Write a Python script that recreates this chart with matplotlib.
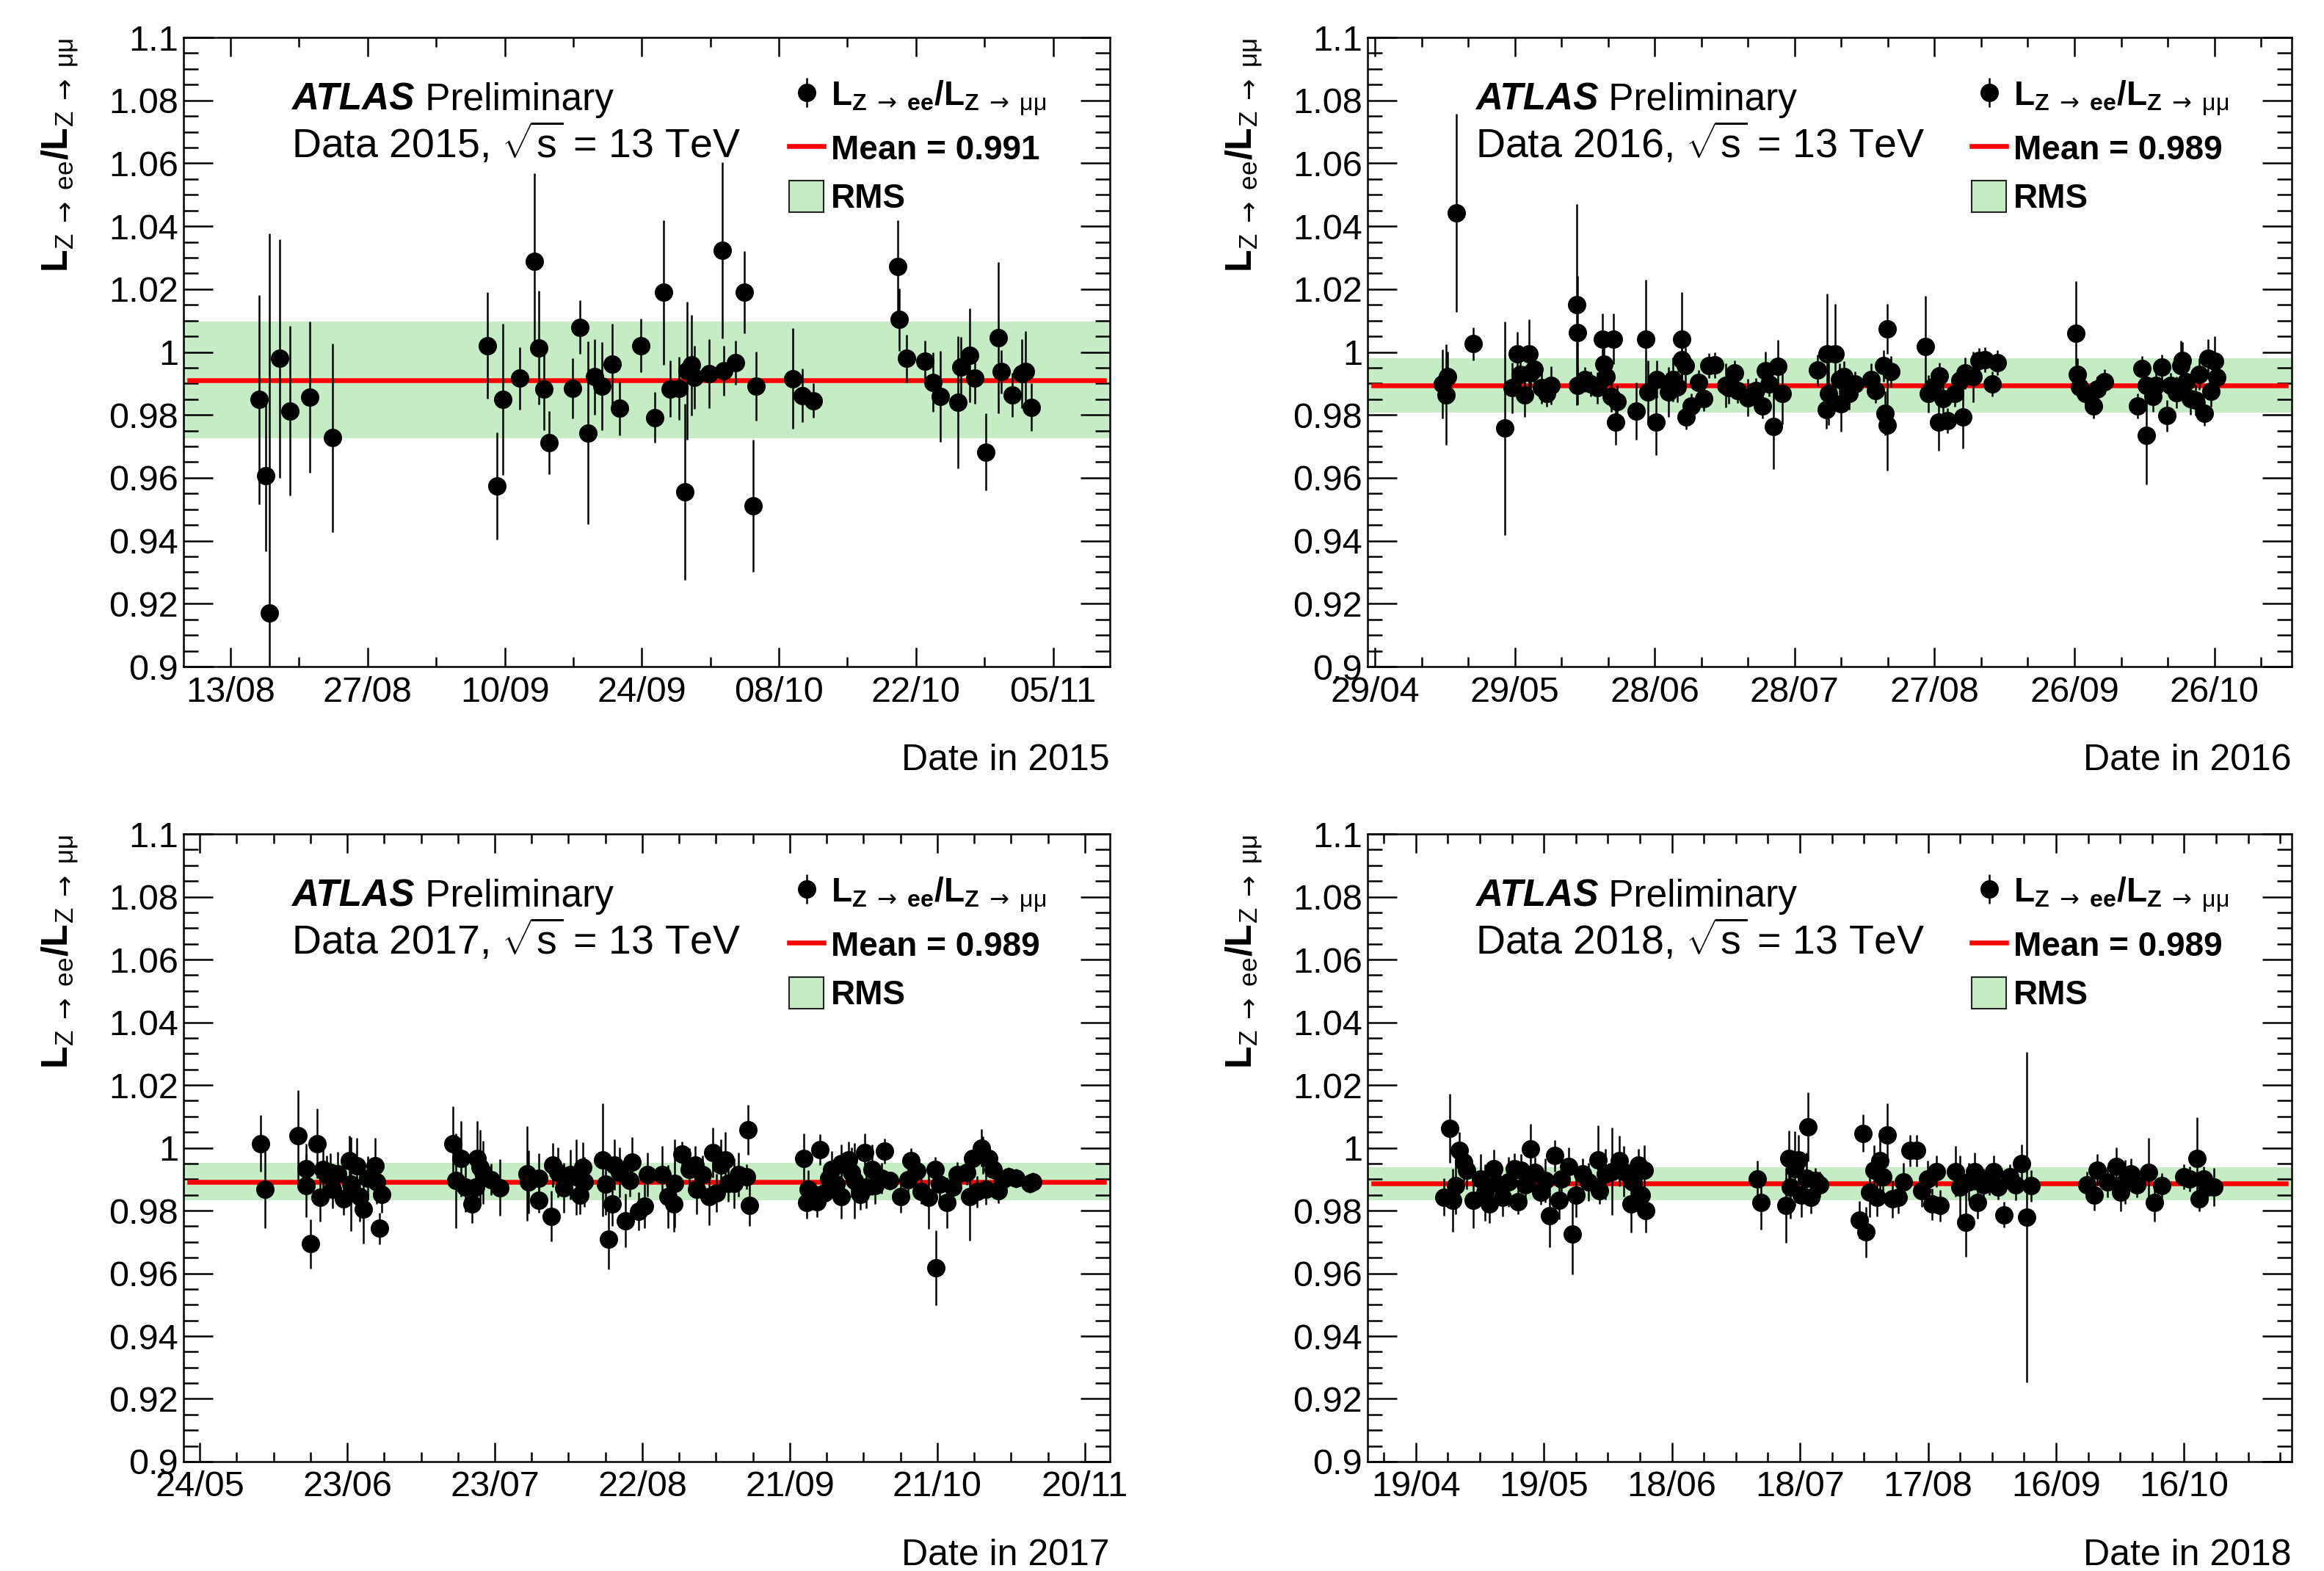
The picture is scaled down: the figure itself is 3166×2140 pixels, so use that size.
import matplotlib
matplotlib.use('Agg')
import matplotlib.pyplot as plt
import matplotlib.dates as mdates
from matplotlib.ticker import FixedLocator, AutoMinorLocator, MultipleLocator, FuncFormatter
from matplotlib.lines import Line2D
from matplotlib.patches import Patch
from matplotlib.container import ErrorbarContainer
from matplotlib.legend_handler import HandlerErrorbar
from datetime import datetime
import numpy as np

plt.rcParams['font.family'] = ['Liberation Sans', 'DejaVu Sans']
plt.rcParams['mathtext.fontset'] = 'custom'
plt.rcParams['mathtext.rm'] = 'Liberation Sans'
plt.rcParams['mathtext.bf'] = 'Liberation Sans:bold'
plt.rcParams['mathtext.it'] = 'Liberation Sans:italic'
plt.rcParams['mathtext.sf'] = 'DejaVu Sans'

# ---------------- data (t = days after 1 Jan of the year) ----------------
t_2015 = [226.9, 227.6, 228.0, 229.0, 230.1, 232.1, 234.4, 250.2, 251.2, 251.8,
          253.5, 255.0, 255.5, 256.0, 256.5, 258.9, 259.7, 260.5, 261.2, 261.9,
          263.0, 263.7, 265.9, 267.3, 268.2, 268.9, 269.8, 270.4, 270.6, 271.1,
          271.4, 272.9, 274.2, 274.4, 275.6, 276.5, 277.4, 277.7, 281.4, 282.4,
          283.5, 292.1, 292.3, 293.0, 294.9, 295.7, 296.5, 298.3, 298.6, 299.5,
          300.0, 301.1, 302.4, 302.7, 303.8, 304.8, 305.2, 305.8]
r_2015 = [0.9849, 0.9606, 0.9171, 0.9979, 0.9813, 0.9856, 0.9728, 1.0021, 0.9574, 0.9849,
          0.9916, 1.0288, 1.0014, 0.9881, 0.9712, 0.9884, 1.0079, 0.9743, 0.9921, 0.9891,
          0.9961, 0.9821, 1.0021, 0.9792, 1.0190, 0.9883, 0.9884, 0.9556, 0.9940, 0.9959,
          0.9920, 0.9932, 1.0324, 0.9940, 0.9966, 1.0190, 0.9510, 0.9892, 0.9915, 0.9862,
          0.9845, 1.0273, 1.0103, 0.9979, 0.9971, 0.9904, 0.9859, 0.9840, 0.9951, 0.9990,
          0.9916, 0.9682, 1.0045, 0.9937, 0.9864, 0.9932, 0.9937, 0.9824]
e_2015 = [0.0333, 0.024, 0.1207, 0.038, 0.027, 0.024, 0.030, 0.017, 0.017, 0.024,
          0.010, 0.028, 0.018, 0.013, 0.010, 0.0095, 0.0085, 0.029, 0.012, 0.014,
          0.013, 0.0085, 0.0085, 0.008, 0.023, 0.009, 0.010, 0.028, 0.022, 0.016,
          0.010, 0.011, 0.028, 0.008, 0.007, 0.013, 0.021, 0.011, 0.016, 0.0085,
          0.0055, 0.0147, 0.010, 0.0075, 0.0065, 0.0095, 0.0145, 0.021, 0.0097, 0.015,
          0.008, 0.0122, 0.024, 0.007, 0.007, 0.011, 0.013, 0.0076]

t_2016 = [136.5, 133.5, 134.6, 134.3, 140.1, 146.9, 148.4, 149.5, 150.2, 151.1,
          152.1, 152.4, 153.2, 154.7, 155.8, 156.7, 162.2, 162.4, 162.5, 164.0,
          165.3, 166.7, 167.8, 168.1, 168.6, 169.6, 170.2, 171.0, 170.6, 175.0,
          177.0, 177.5, 179.2, 179.5, 182.0, 182.9, 183.9, 184.7, 184.8, 185.5,
          185.7, 186.8, 188.4, 189.5, 190.6, 191.8, 194.2, 194.8, 196.1, 196.7,
          198.9, 200.6, 202.1, 202.8, 203.5, 204.4, 205.4, 206.4, 213.9, 216.0,
          216.3, 215.8, 217.7, 218.7, 219.6, 219.0, 220.6, 221.9, 225.4, 226.4,
          228.9, 228.0, 229.6, 228.4, 228.8, 237.1, 237.6, 238.6, 240.0, 239.9,
          240.8, 241.8, 243.4, 244.4, 245.0, 245.6, 247.2, 248.5, 249.8, 251.3,
          252.4, 269.3, 269.7, 270.1, 271.3, 273.1, 273.9, 275.5, 282.6, 283.5,
          284.5, 284.4, 285.9, 286.4, 287.7, 288.9, 289.7, 290.9, 291.8, 292.2,
          292.9, 293.8, 295.0, 295.8, 296.9, 297.7, 298.3, 299.1, 299.5]
r_2016 = [1.0442, 0.9898, 0.9921, 0.9864, 1.0026, 0.9758, 0.9886, 0.9995, 0.9929, 0.9863,
          0.9995, 0.9933, 0.9946, 0.9886, 0.9867, 0.9894, 1.0151, 1.0061, 0.9894, 0.9913,
          0.9898, 0.9886, 1.0042, 0.9962, 0.9921, 0.9859, 1.0042, 0.9843, 0.9777, 0.9812,
          1.0040, 0.9873, 0.9777, 0.9913, 0.9873, 0.9913, 0.9890, 1.0040, 0.9975, 0.9956,
          0.9793, 0.9828, 0.9902, 0.9851, 0.9956, 0.9958, 0.9894, 0.9886, 0.9933, 0.9878,
          0.9855, 0.9878, 0.9828, 0.9941, 0.9898, 0.9762, 0.9954, 0.9869, 0.9942, 0.9995,
          0.9867, 0.9817, 0.9993, 0.9913, 0.9921, 0.9836, 0.9867, 0.9898, 0.9913, 0.9878,
          1.0073, 0.9956, 0.9938, 0.9806, 0.9767, 1.0018, 0.9867, 0.9890, 0.9925, 0.9777,
          0.9851, 0.9781, 0.9867, 0.9909, 0.9793, 0.9933, 0.9921, 0.9972, 0.9976, 0.9898,
          0.9966, 1.0060, 0.9929, 0.9890, 0.9867, 0.9828, 0.9882, 0.9905, 0.9829, 0.9947,
          0.9894, 0.9734, 0.9859, 0.9894, 0.9952, 0.9797, 0.9894, 0.9871, 0.9956, 0.9972,
          0.9905, 0.9851, 0.9847, 0.9929, 0.9806, 0.9980, 0.9875, 0.9970, 0.9920]
e_2016 = [0.0315, 0.011, 0.008, 0.016, 0.0052, 0.034, 0.008, 0.007, 0.008, 0.007,
          0.011, 0.008, 0.006, 0.005, 0.004, 0.006, 0.032, 0.018, 0.006, 0.004,
          0.004, 0.005, 0.008, 0.008, 0.006, 0.005, 0.008, 0.005, 0.0073, 0.009,
          0.019, 0.010, 0.0105, 0.006, 0.008, 0.007, 0.005, 0.015, 0.006, 0.006,
          0.004, 0.004, 0.004, 0.004, 0.004, 0.004, 0.007, 0.005, 0.004, 0.004,
          0.006, 0.004, 0.004, 0.006, 0.004, 0.0135, 0.0085, 0.010, 0.005, 0.019,
          0.010, 0.006, 0.016, 0.005, 0.005, 0.009, 0.005, 0.004, 0.005, 0.004,
          0.008, 0.005, 0.005, 0.007, 0.0145, 0.016, 0.006, 0.004, 0.004, 0.009,
          0.005, 0.004, 0.004, 0.004, 0.010, 0.005, 0.008, 0.004, 0.004, 0.004,
          0.004, 0.0165, 0.005, 0.004, 0.004, 0.004, 0.004, 0.004, 0.004, 0.004,
          0.004, 0.0155, 0.005, 0.005, 0.004, 0.005, 0.004, 0.005, 0.008, 0.006,
          0.004, 0.005, 0.005, 0.005, 0.004, 0.006, 0.005, 0.008, 0.005]

t_2017 = [155.4, 156.3, 163.0, 164.6, 164.7, 165.5, 166.8, 167.4, 168.0, 168.8,
          169.5, 170.0, 171.1, 172.3, 173.5, 173.8, 175.0, 175.6, 176.3, 177.2,
          178.6, 179.0, 179.5, 180.0, 194.5, 195.1, 196.2, 197.0, 198.3, 199.1,
          199.4, 200.0, 200.6, 202.2, 204.1, 209.5, 209.8, 211.9, 212.0, 214.5,
          214.8, 215.9, 217.1, 218.3, 219.5, 220.3, 220.9, 221.2, 224.9, 225.5,
          226.2, 226.9, 227.4, 228.4, 229.5, 230.5, 230.9, 232.3, 233.5, 234.1,
          237.1, 238.2, 239.4, 239.5, 241.1, 242.6, 243.7, 244.1, 245.3, 246.6,
          247.3, 248.1, 249.0, 249.8, 250.5, 251.7, 252.6, 254.2, 254.5, 254.8,
          265.9, 266.7, 266.4, 268.5, 269.1, 270.0, 270.9, 271.5, 272.4, 273.4,
          273.5, 274.9, 275.5, 276.1, 277.3, 278.2, 278.5, 279.8, 280.4, 281.6,
          282.2, 283.3, 285.5, 287.1, 287.7, 288.9, 289.8, 291.3, 292.6, 292.7,
          293.5, 295.0, 296.2, 297.1, 299.0, 299.6, 300.2, 301.1, 302.0, 302.3,
          302.9, 303.4, 304.4, 305.4, 306.3, 307.5, 309.0, 311.8, 312.4]
r_2017 = [1.0014, 0.9868, 1.0039, 0.9934, 0.9880, 0.9694, 1.0014, 0.9841, 0.9930, 0.9915,
          0.9922, 0.9868, 0.9918, 0.9837, 0.9958, 0.9884, 0.9942, 0.9845, 0.9805, 0.9903,
          0.9942, 0.9891, 0.9743, 0.9852, 1.0012, 0.9895, 0.9965, 0.9876, 0.9821, 0.9876,
          0.9965, 0.9938, 0.9922, 0.9899, 0.9873, 0.9918, 0.9891, 0.9903, 0.9833, 0.9782,
          0.9946, 0.9922, 0.9872, 0.9915, 0.9907, 0.9849, 0.9938, 0.9891, 0.9962, 0.9885,
          0.9708, 0.9821, 0.9946, 0.9922, 0.9768, 0.9895, 0.9955, 0.9798, 0.9815, 0.9915,
          0.9915, 0.9844, 0.9821, 0.9887, 0.9979, 0.9930, 0.9946, 0.9868, 0.9915, 0.9844,
          0.9985, 0.9856, 0.9946, 0.9961, 0.9887, 0.9887, 0.9915, 0.9908, 1.0057, 0.9817,
          0.9965, 0.9868, 0.9825, 0.9829, 0.9994, 0.9856, 0.9903, 0.9930, 0.9884, 0.9950,
          0.9844, 0.9961, 0.9922, 0.9895, 0.9852, 0.9985, 0.9876, 0.9930, 0.9880, 0.9903,
          0.9989, 0.9895, 0.9844, 0.9899, 0.9958, 0.9926, 0.9860, 0.9841, 0.9930, 0.9618,
          0.9884, 0.9825, 0.9876, 0.9915, 0.9922, 0.9844, 0.9965, 0.9860, 1.0000, 0.9977,
          0.9868, 0.9965, 0.9930, 0.9864, 0.9899, 0.9907, 0.9903, 0.9887, 0.9891]
e_2017 = [0.009, 0.0125, 0.0145, 0.008, 0.010, 0.0078, 0.011, 0.0075, 0.008, 0.006,
          0.006, 0.006, 0.007, 0.005, 0.008, 0.015, 0.009, 0.008, 0.011, 0.007,
          0.009, 0.007, 0.005, 0.006, 0.012, 0.015, 0.012, 0.008, 0.006, 0.008,
          0.012, 0.012, 0.010, 0.005, 0.009, 0.015, 0.010, 0.008, 0.004, 0.008,
          0.007, 0.008, 0.008, 0.008, 0.012, 0.006, 0.008, 0.008, 0.018, 0.010,
          0.0095, 0.007, 0.008, 0.008, 0.0085, 0.005, 0.008, 0.006, 0.007, 0.007,
          0.009, 0.010, 0.009, 0.014, 0.004, 0.007, 0.006, 0.008, 0.006, 0.009,
          0.008, 0.006, 0.008, 0.009, 0.006, 0.008, 0.007, 0.004, 0.008, 0.0065,
          0.008, 0.006, 0.005, 0.005, 0.005, 0.004, 0.005, 0.006, 0.005, 0.006,
          0.007, 0.006, 0.008, 0.012, 0.005, 0.006, 0.007, 0.008, 0.006, 0.005,
          0.004, 0.003, 0.005, 0.005, 0.004, 0.003, 0.004, 0.010, 0.004, 0.012,
          0.006, 0.008, 0.005, 0.004, 0.004, 0.014, 0.003, 0.005, 0.006, 0.006,
          0.005, 0.004, 0.003, 0.004, 0.003, 0.003, 0.003, 0.003, 0.003]

t_2018 = [114.5, 115.9, 116.6, 117.3, 118.2, 119.3, 120.0, 121.4, 123.1, 124.2,
          125.3, 126.3, 126.9, 128.3, 129.7, 131.1, 131.9, 132.7, 133.6, 134.8,
          135.9, 137.3, 138.3, 139.4, 140.5, 141.5, 142.1, 143.9, 144.6, 145.6,
          147.0, 148.4, 150.7, 151.1, 152.5, 153.9, 155.7, 156.7, 158.5, 158.7,
          160.1, 160.8, 161.5, 161.9, 188.0, 188.9, 194.7, 195.4, 195.8, 196.8,
          197.7, 198.4, 199.5, 199.9, 200.5, 201.6, 202.7, 212.0, 212.7, 213.4,
          214.3, 215.4, 216.1, 216.8, 217.5, 218.5, 219.6, 221.0, 222.3, 223.7,
          225.4, 226.5, 227.9, 229.0, 229.9, 230.9, 234.4, 235.5, 236.9, 237.5,
          238.9, 239.6, 241.0, 242.3, 243.3, 244.5, 245.8, 247.2, 248.6, 250.0,
          251.1, 252.1, 265.2, 266.9, 267.7, 270.1, 272.1, 273.2, 274.2, 275.6,
          277.0, 279.7, 281.1, 282.8, 288.0, 289.3, 291.0, 291.5, 292.6, 293.5,
          294.9]
r_2018 = [0.9843, 1.0062, 0.9833, 0.9879, 0.9991, 0.9954, 0.9929, 0.9833, 0.9900, 0.9858,
          0.9820, 0.9933, 0.9887, 0.9841, 0.9891, 0.9933, 0.9829, 0.9929, 0.9883, 0.9996,
          0.9921, 0.9858, 0.9895, 0.9783, 0.9975, 0.9833, 0.9900, 0.9941, 0.9726, 0.9850,
          0.9916, 0.9891, 0.9962, 0.9862, 0.9916, 0.9925, 0.9958, 0.9925, 0.9820, 0.9891,
          0.9946, 0.9850, 0.9929, 0.9800, 0.9900, 0.9825, 0.9816, 0.9966, 0.9875, 0.9933,
          0.9962, 0.9850, 0.9904, 1.0067, 0.9841, 0.9895, 0.9883, 0.9770, 1.0046, 0.9731,
          0.9858, 0.9929, 0.9841, 0.9958, 0.9908, 1.0042, 0.9837, 0.9841, 0.9891, 0.9991,
          0.9991, 0.9862, 0.9900, 0.9820, 0.9925, 0.9816, 0.9925, 0.9875, 0.9762, 0.9891,
          0.9925, 0.9825, 0.9883, 0.9900, 0.9925, 0.9875, 0.9787, 0.9908, 0.9883, 0.9950,
          0.9779, 0.9879, 0.9883, 0.9850, 0.9929, 0.9891, 0.9941, 0.9858, 0.9891, 0.9916,
          0.9883, 0.9921, 0.9825, 0.9879, 0.9908, 0.9900, 0.9966, 0.9837, 0.9900, 0.9875,
          0.9875]
e_2018 = [0.006, 0.011, 0.010, 0.009, 0.006, 0.006, 0.006, 0.009, 0.008, 0.009,
          0.006, 0.006, 0.007, 0.006, 0.008, 0.005, 0.004, 0.005, 0.006, 0.008,
          0.005, 0.004, 0.007, 0.010, 0.005, 0.006, 0.006, 0.006, 0.013, 0.007,
          0.005, 0.006, 0.011, 0.004, 0.008, 0.014, 0.008, 0.008, 0.009, 0.006,
          0.005, 0.006, 0.008, 0.007, 0.006, 0.0085, 0.012, 0.009, 0.010, 0.012,
          0.008, 0.007, 0.008, 0.011, 0.005, 0.004, 0.004, 0.006, 0.006, 0.008,
          0.008, 0.008, 0.006, 0.010, 0.007, 0.010, 0.006, 0.005, 0.006, 0.005,
          0.005, 0.005, 0.006, 0.005, 0.005, 0.005, 0.008, 0.010, 0.011, 0.006,
          0.006, 0.005, 0.005, 0.005, 0.005, 0.004, 0.004, 0.004, 0.005, 0.006,
          0.0527, 0.005, 0.004, 0.005, 0.005, 0.005, 0.006, 0.006, 0.007, 0.005,
          0.004, 0.011, 0.006, 0.004, 0.004, 0.004, 0.013, 0.004, 0.004, 0.004,
          0.006]

years = [2015, 2016, 2017, 2018]
means = [0.9911, 0.9894, 0.9892, 0.9886]
rms_vals = [0.0185, 0.0086, 0.0059, 0.0053]
xlims = [(219.2, 313.8), (117.4, 315.6), (139.7, 328.1), (96.7, 313.2)]
ticklabels = [['13/08', '27/08', '10/09', '24/09', '08/10', '22/10', '05/11'],
              ['29/04', '29/05', '28/06', '28/07', '27/08', '26/09', '26/10'],
              ['24/05', '23/06', '23/07', '22/08', '21/09', '21/10', '20/11'],
              ['19/04', '19/05', '18/06', '18/07', '17/08', '16/09', '16/10']]
n_minor = [2, 3, 4, 4]
series = [(t_2015, r_2015, e_2015), (t_2016, r_2016, e_2016),
          (t_2017, r_2017, e_2017), (t_2018, r_2018, e_2018)]

# ---------------- styling ----------------
W, H = 3166, 2140
band_color = '#c5ecc5'
rects = [[250 / W, (H - 908) / H, 1262 / W, 857 / H],
         [1863 / W, (H - 908) / H, 1259 / W, 857 / H],
         [250 / W, (H - 1991) / H, 1262 / W, 855 / H],
         [1863 / W, (H - 1991) / H, 1259 / W, 855 / H]]

arrow = r'\ \mathsf{\rightarrow}\ '
ylab = (r'$\mathbf{L}_{\mathrm{Z}' + arrow + r'\mathrm{ee}}\mathbf{/L}_{\mathrm{Z}'
        + arrow + r'\mathrm{\mu\mu}}$')
leglab = (r'$\mathbf{L}_{\mathbf{Z}' + arrow + r'\mathbf{ee}}\mathbf{/L}_{\mathbf{Z}'
          + arrow + r'\mathrm{\mu\mu}}$')

fig = plt.figure(figsize=(W / 100, H / 100), dpi=100)

for i, year in enumerate(years):
    t, r, e = series[i]
    mean, rms = means[i], rms_vals[i]
    ax = fig.add_axes(rects[i])
    base = mdates.date2num(datetime(year, 1, 1))
    x = base + np.asarray(t)

    ax.axhspan(mean - rms, mean + rms, facecolor=band_color, lw=0, zorder=1)
    ax.axhline(mean, xmin=0.006, xmax=0.994, color='red', lw=4.7, zorder=2)
    eb = ax.errorbar(x, r, yerr=e, fmt='o', color='black', ms=17,
                     elinewidth=1.8, capsize=0, zorder=3)

    ax.set_xlim(base + xlims[i][0], base + xlims[i][1])
    ax.set_ylim(0.9, 1.1)
    majors = [mdates.date2num(datetime.strptime(f'{lab}/{year}', '%d/%m/%Y'))
              for lab in ticklabels[i]]
    ax.xaxis.set_major_locator(FixedLocator(majors))
    ax.xaxis.set_major_formatter(mdates.DateFormatter('%d/%m'))
    ax.xaxis.set_minor_locator(AutoMinorLocator(n_minor[i]))
    ax.yaxis.set_major_locator(MultipleLocator(0.02))
    ax.yaxis.set_minor_locator(MultipleLocator(0.005))
    ax.yaxis.set_major_formatter(FuncFormatter(lambda v, p: f'{round(v, 3):g}'))

    ax.tick_params(axis='both', which='both', direction='in', top=True, right=True,
                   width=1.8, labelsize=35)
    ax.tick_params(axis='x', which='major', length=18.7, pad=9)
    ax.tick_params(axis='x', which='minor', length=9.4)
    ax.tick_params(axis='y', which='major', length=28.8, pad=5)
    ax.tick_params(axis='y', which='minor', length=14.4)
    for sp in ax.spines.values():
        sp.set_linewidth(1.8)

    ax.set_ylabel(ylab, fontsize=36, loc='top')
    ax.yaxis.set_label_coords(-0.112, 1.0)
    ax.set_xlabel(f'Date in {year}', fontsize=36, loc='right')
    ax.xaxis.set_label_coords(1.0, -0.123)

    atlas = ax.text(0.1165, 0.8845, 'ATLAS', transform=ax.transAxes, fontsize=37,
                    fontweight='bold', fontstyle='italic', va='baseline', ha='left')
    ax.annotate(' Preliminary', xy=(1, 0), xycoords=atlas, fontsize=37,
                va='bottom', ha='left')
    ax.text(0.1165, 0.8086, f'Data {year}, ' + r'$\sqrt{\mathrm{s}}$' + ' = 13 TeV',
            transform=ax.transAxes, fontsize=40, va='baseline', ha='left')

    handles = [eb, Line2D([], [], color='red', lw=4.7),
               Patch(facecolor=band_color, edgecolor='#222222', lw=1.5)]
    labels = [leglab, f'Mean = {mean:.3f}', 'RMS']
    ax.legend(handles, labels, loc='upper left', bbox_to_anchor=(0.6537, 0.934),
              frameon=False, prop={'size': 33, 'weight': 'bold'},
              handlelength=1.03, handleheight=1.05, handletextpad=0.22,
              labelspacing=0.42, borderpad=0, borderaxespad=0,
              handler_map={ErrorbarContainer: HandlerErrorbar(xerr_size=0.43)})

fig.savefig('out.png', dpi=100)
